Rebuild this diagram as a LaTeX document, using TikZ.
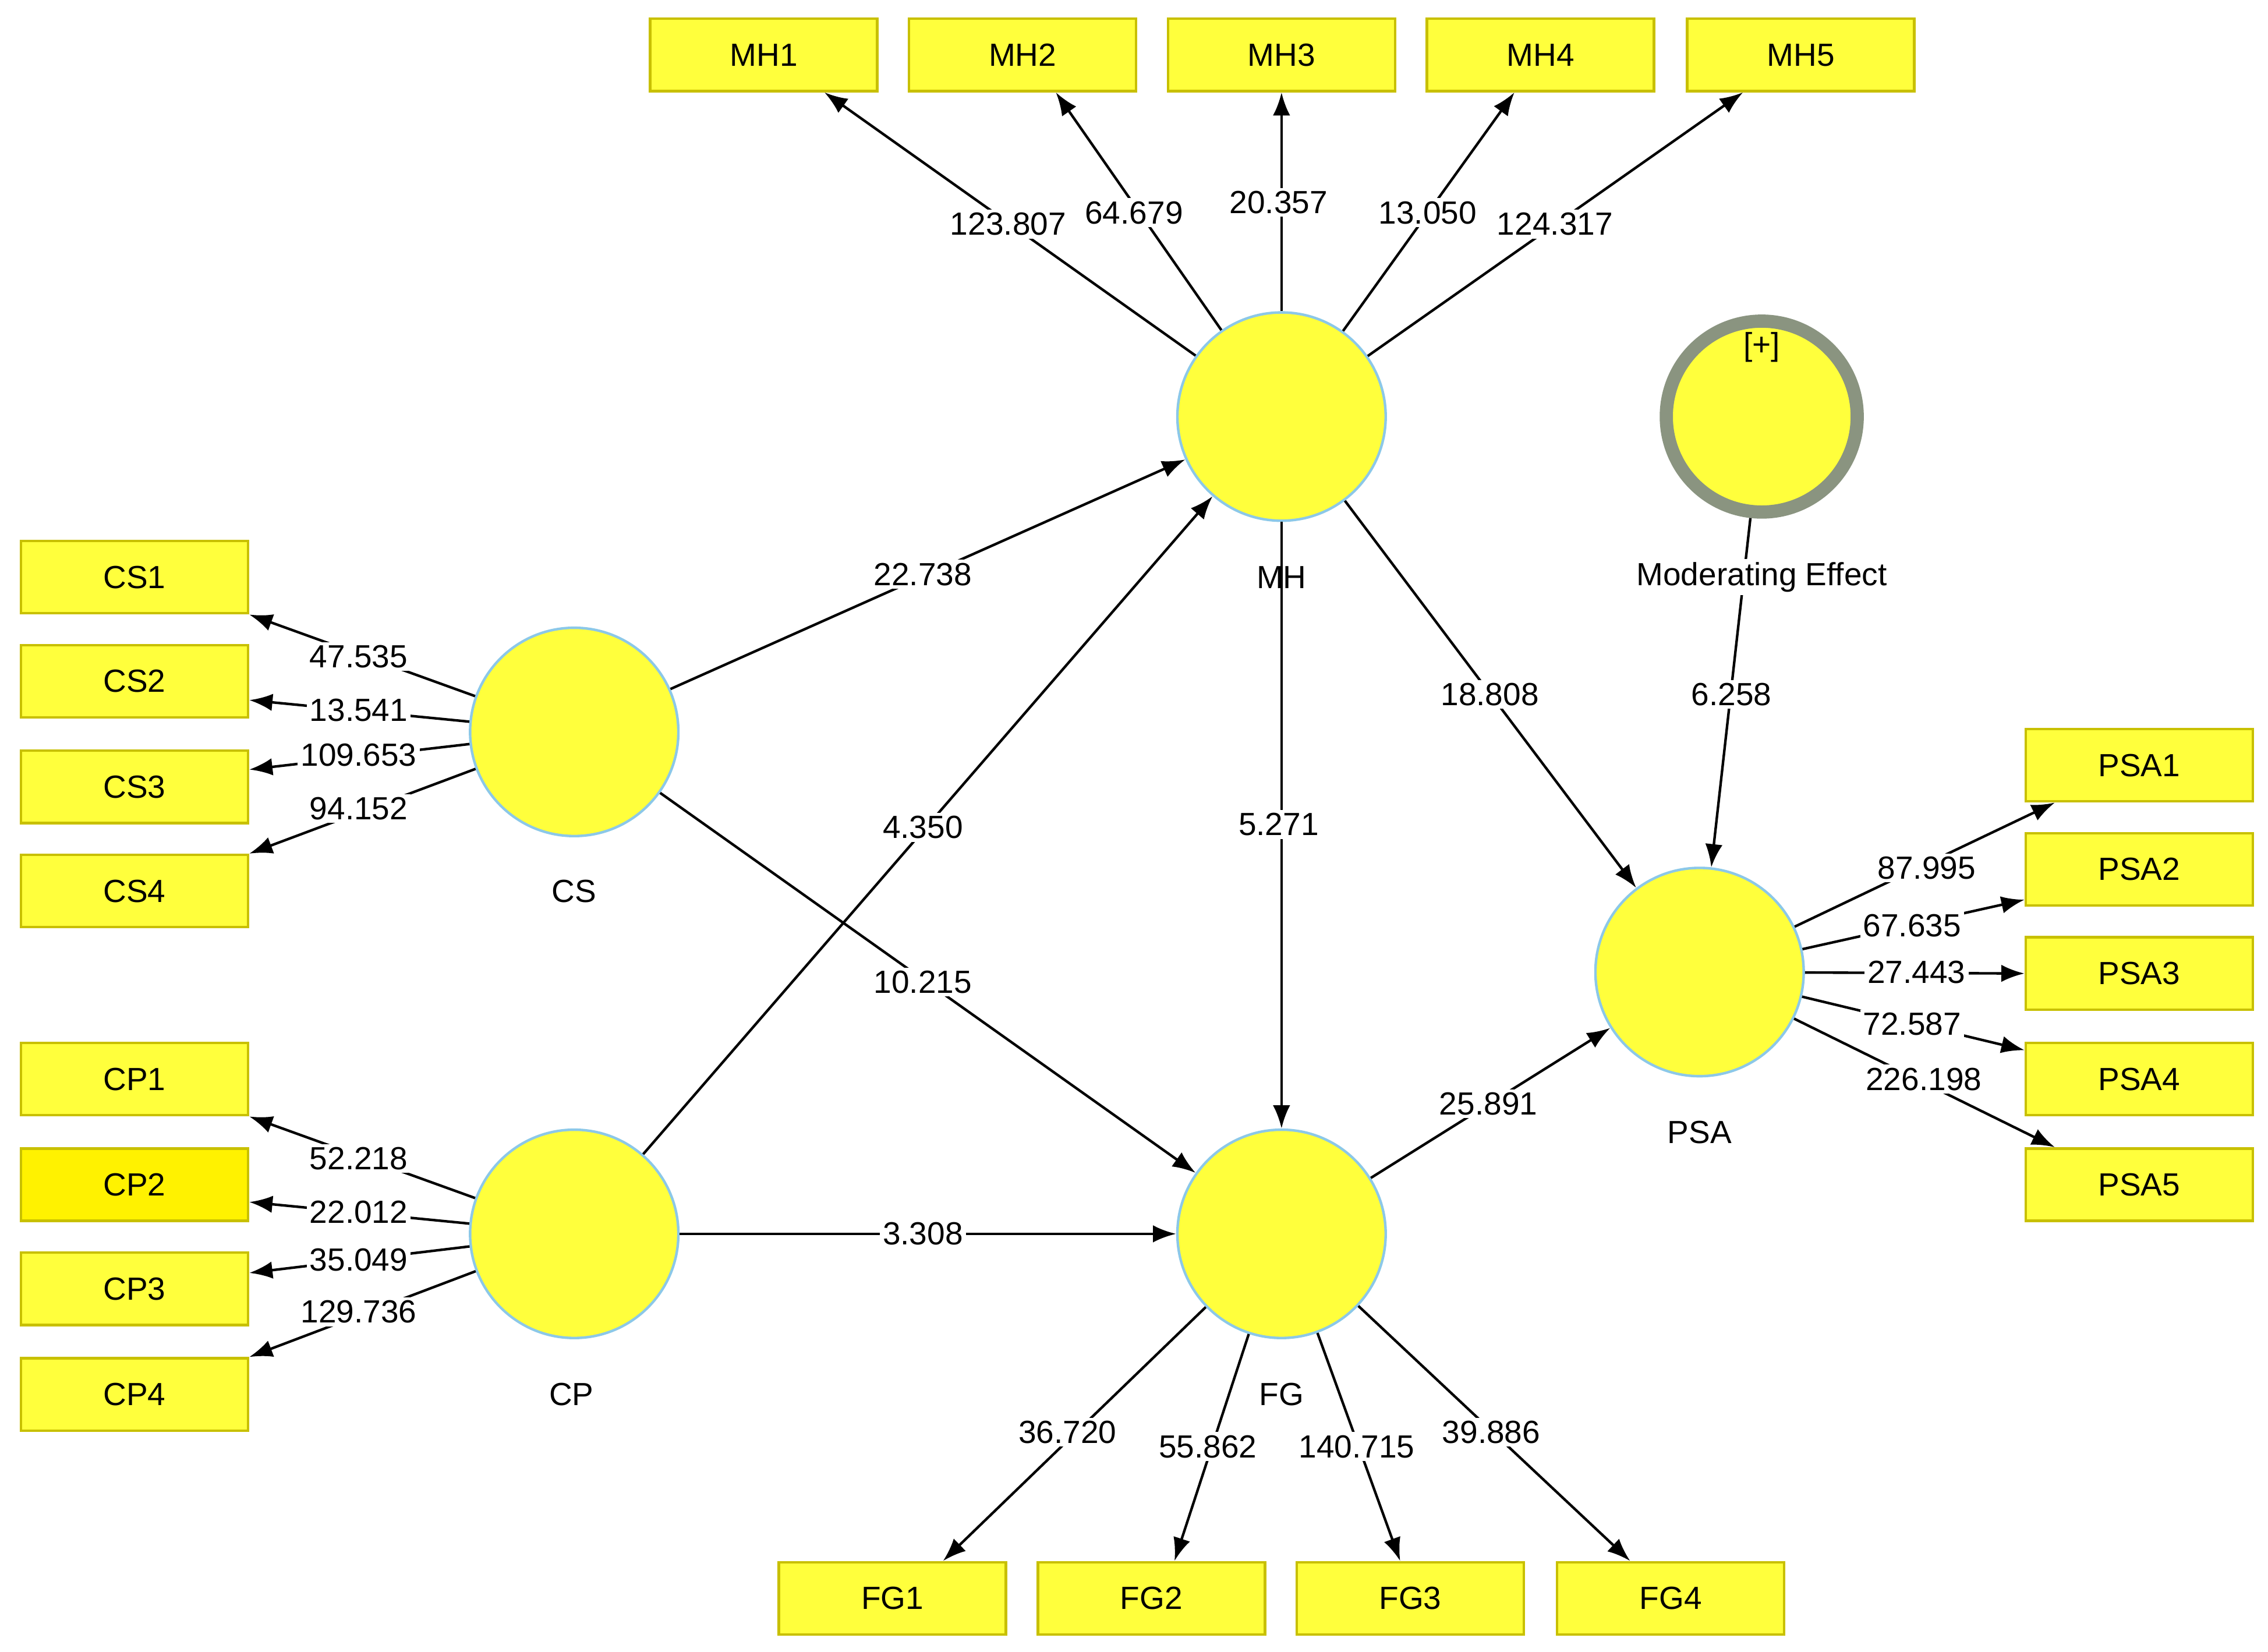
\documentclass[tikz,border=0pt]{standalone}
\usepackage{fontspec}
\setmainfont{Liberation Sans}
\usetikzlibrary{arrows.meta}
\definecolor{fy}{HTML}{FFFF3C}
\definecolor{fb}{HTML}{C8C000}
\definecolor{cb}{HTML}{8CC8E8}
\definecolor{mg}{HTML}{8A9480}
\begin{document}
\begin{tikzpicture}[x=0.1mm,y=-0.1mm,
  font=\fontsize{6.3pt}{7pt}\selectfont,
  ind/.style={draw=fb,fill=fy,line width=0.5pt,minimum width=15.7mm,minimum height=5mm,inner sep=0pt},
  lv/.style={circle,draw=cb,fill=fy,line width=0.5pt,minimum size=14.4mm,inner sep=0pt},
  ar/.style={-{Latex[length=1.6mm,width=1.2mm]},line width=0.5pt},
  lb/.style={fill=white,inner sep=0.6pt}]
\useasboundingbox (0,0) rectangle (1568,1142);
% indicators
\foreach \n/\x in {1/528,2/707,3/886,4/1065,5/1245}{\node[ind] (MH\n) at (\x,38) {MH\n};}
\foreach \n/\y in {1/399,2/471,3/544,4/616}{\node[ind] (CS\n) at (93,\y) {CS\n};}
\foreach \n/\y in {1/746,3/891,4/964}{\node[ind] (CP\n) at (93,\y) {CP\n};}
\node[ind,fill=yellow] (CP2) at (93,819) {CP2};
\foreach \n/\y in {1/529,2/601,3/673,4/746,5/819}{\node[ind] (PSA\n) at (1479,\y) {PSA\n};}
\foreach \n/\x in {1/617,2/796,3/975,4/1155}{\node[ind] (FG\n) at (\x,1105) {FG\n};}
% latent
\node[lv] (MH) at (886,288) {};
\node[lv] (CS) at (397,506) {};
\node[lv] (CP) at (397,853) {};
\node[lv] (FG) at (886,853) {};
\node[lv] (PSA) at (1175,672) {};
\node[circle,draw=mg,fill=fy,line width=2.6pt,minimum size=13.2mm,inner sep=0pt] (ME) at (1218,288) {};
\node at (886,399) {MH};
\node at (397,616) {CS};
\node at (395,964) {CP};
\node at (886,964) {FG};
\node at (1175,783) {PSA};
\node at (1218,240) {[+]};
% outer loadings
\draw[ar] (MH) -- ([xshift=4.2mm]MH1.south);
\draw[ar] (MH) -- ([xshift=2.3mm]MH2.south);
\draw[ar] (MH) -- (MH3.south);
\draw[ar] (MH) -- ([xshift=-1.8mm]MH4.south);
\draw[ar] (MH) -- ([xshift=-4mm]MH5.south);
\draw[ar] (CS) -- (CS1.south east);
\draw[ar] (CS) -- ([yshift=-1.3mm]CS2.east);
\draw[ar] (CS) -- ([yshift=1.2mm]CS3.east);
\draw[ar] (CS) -- (CS4.north east);
\draw[ar] (CP) -- (CP1.south east);
\draw[ar] (CP) -- ([yshift=-1.2mm]CP2.east);
\draw[ar] (CP) -- ([yshift=1.1mm]CP3.east);
\draw[ar] (CP) -- (CP4.north east);
\draw[ar] (PSA) -- ([xshift=2.1mm]PSA1.south west);
\draw[ar] (PSA) -- ([yshift=-2.1mm]PSA2.west);
\draw[ar] (PSA) -- (PSA3.west);
\draw[ar] (PSA) -- ([yshift=2mm]PSA4.west);
\draw[ar] (PSA) -- ([xshift=2.1mm]PSA5.north west);
\draw[ar] (FG) -- ([xshift=3.5mm]FG1.north);
\draw[ar] (FG) -- ([xshift=1.6mm]FG2.north);
\draw[ar] (FG) -- ([xshift=-0.7mm]FG3.north);
\draw[ar] (FG) -- ([xshift=-2.8mm]FG4.north);
% structural
\draw[ar] (CS) -- (MH);
\draw[ar] (CP) -- (MH);
\draw[ar] (MH) -- (FG);
\draw[ar] (MH) -- (PSA);
\draw[ar] (CS) -- (FG);
\draw[ar] (CP) -- (FG);
\draw[ar] (FG) -- (PSA);
\draw[ar] (ME) -- (PSA);
\node[lb] at (1218,399) {Moderating Effect};
% labels
\foreach \t/\x/\y in {123.807/697/155,64.679/784/147,20.357/884/140,13.050/987/147,124.317/1075/155,
 47.535/248/454,13.541/248/491,109.653/248/522,94.152/248/559,
 52.218/248/801,22.012/248/838,35.049/248/871,129.736/248/907,
 22.738/638/397,4.350/638/572,10.215/638/679,3.308/638/853,5.271/884/570,18.808/1030/480,6.258/1197/480,25.891/1029/763,
 87.995/1332/600,67.635/1322/640,27.443/1325/672,72.587/1322/708,226.198/1330/746,
 36.720/738/990,55.862/835/1000,140.715/938/1000,39.886/1031/990}{\node[lb] at (\x,\y) {\t};}
\end{tikzpicture}
\end{document}
